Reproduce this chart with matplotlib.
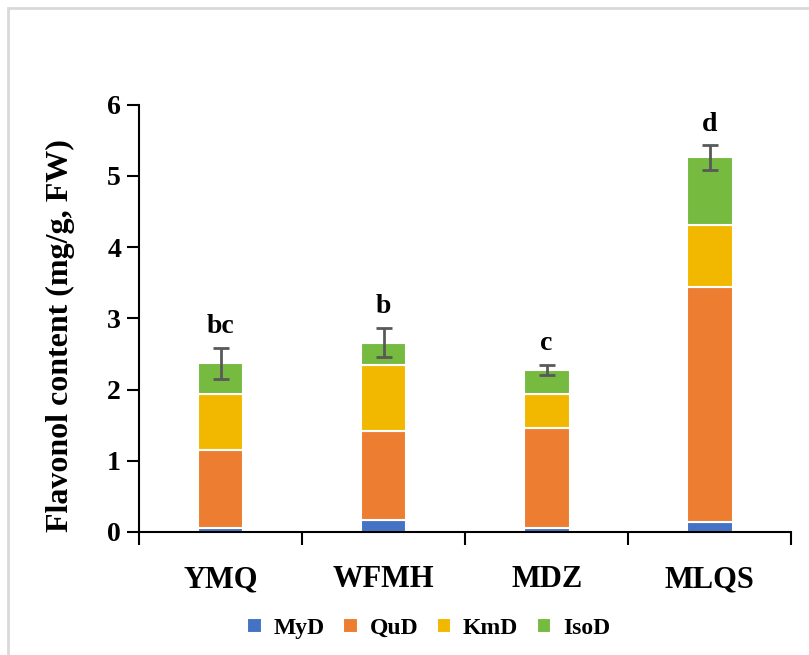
import numpy as np
import matplotlib.pyplot as plt
from matplotlib.patches import Rectangle

plt.rcParams['font.family'] = ['Liberation Serif', 'DejaVu Serif']
plt.rcParams['font.weight'] = 'bold'

cultivares = ['YMQ', 'WFMH', 'MDZ', 'MLQS']
myd = [0.05, 0.16, 0.06, 0.14]
qud = [1.10, 1.26, 1.40, 3.30]
kmd = [0.78, 0.93, 0.47, 0.87]
isod = [0.44, 0.31, 0.35, 0.95]
error = [0.22, 0.21, 0.07, 0.17]
letras = ['bc', 'b', 'c', 'd']

series = [('MyD', myd, '#4472c4'), ('QuD', qud, '#ed7d31'),
          ('KmD', kmd, '#f2b800'), ('IsoD', isod, '#76bb40')]

fig = plt.figure(figsize=(8.09, 6.55), dpi=100)
ax = fig.add_axes([0.172, 0.188, 0.806, 0.652])

x = np.arange(len(cultivares))
base = np.zeros(len(cultivares))
for nombre, valores, color in series:
    ax.bar(x, valores, width=0.28, bottom=base, color=color,
           edgecolor='white', linewidth=1.5, label=nombre)
    base = base + np.array(valores)

ax.errorbar(x, base, yerr=error, fmt='none', ecolor='#595959',
            elinewidth=2, capsize=6, capthick=2)

for i in range(len(cultivares)):
    ax.annotate(letras[i], (x[i], base[i] + error[i]), xytext=(0, 6),
                textcoords='offset points', ha='center', va='bottom',
                fontsize=20, fontweight='bold')

ax.set_xlim(-0.5, 3.5)
ax.set_ylim(0, 6)
ax.set_yticks(range(0, 7))
ax.tick_params(axis='y', labelsize=20, length=9, width=1.5, direction='out', pad=4)
ax.set_xticks(x)
ax.set_xticklabels(cultivares, fontsize=22, fontweight='bold')
ax.tick_params(axis='x', which='major', length=0, pad=24)
ax.set_xticks(np.arange(-0.5, 4, 1), minor=True)
ax.tick_params(axis='x', which='minor', length=9.5, width=1.5, direction='out')
for lab in ax.get_yticklabels():
    lab.set_fontweight('bold')

ax.spines['top'].set_visible(False)
ax.spines['right'].set_visible(False)
ax.spines['left'].set_linewidth(1.5)
ax.spines['bottom'].set_linewidth(1.5)

ax.set_ylabel('Flavonol content (mg/g, FW)', fontsize=23, fontweight='bold')
ax.yaxis.set_label_coords(-0.098, 0.46)

fig.legend(loc='center', bbox_to_anchor=(0.53, 0.041), ncol=4, frameon=False,
           handlelength=0.6, handleheight=0.6, handletextpad=0.5,
           columnspacing=0.8, prop={'weight': 'bold', 'size': 17})

fig.patches.append(Rectangle((8 / 809, -0.1), 1.2, 1 - 8 / 655 + 0.1,
                             transform=fig.transFigure, fill=False,
                             edgecolor='#d9d9d9', linewidth=2))

fig.savefig('out.png', dpi=100)
